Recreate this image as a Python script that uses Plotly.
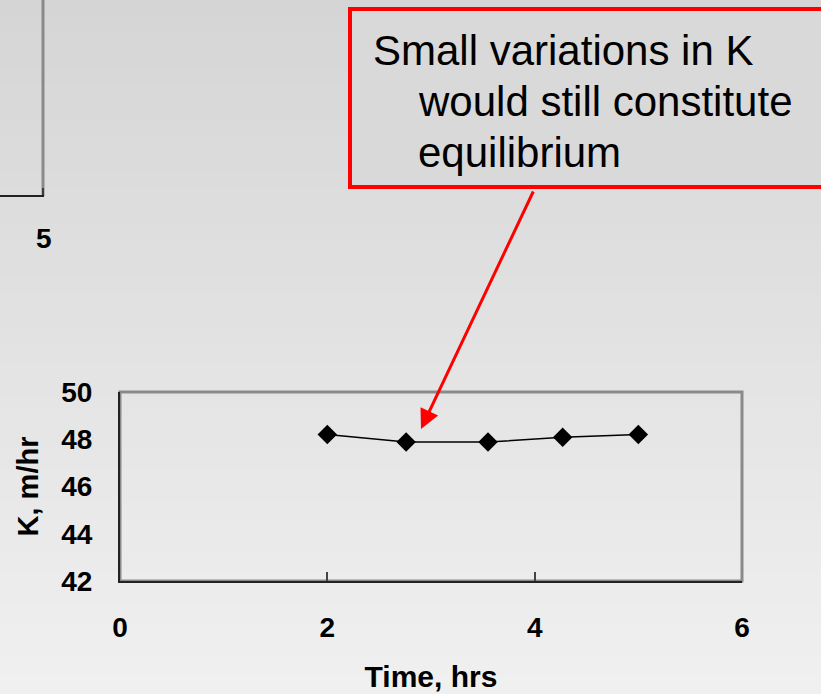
import plotly.graph_objects as go

# ---- data ----
time_hrs = [2.0, 2.76, 3.55, 4.27, 5.0]
k_values = [48.2, 47.88, 47.88, 48.08, 48.2]
x_ticks = [0, 2, 4, 6]
y_ticks = [42, 44, 46, 48, 50]
callout_lines = ["Small variations in K", "would still constitute", "equilibrium"]

FW, FH = 821, 694
L, R, T, B = 120, 742, 392, 581
W, H = R - L, B - T


def px(x):
    return (x - L) / W


def py(y):
    return (B - y) / H


fig = go.Figure()
fig.add_trace(go.Scatter(
    x=time_hrs, y=k_values, mode="lines+markers",
    line=dict(color="black", width=1.5),
    marker=dict(symbol="diamond", size=15, color="black"),
    showlegend=False, hoverinfo="skip"))

shapes = []
# background gradient bands
n = 40
c0, c1 = 0xd5, 0xf0
for i in range(n):
    y0 = FH * i / n
    y1 = FH * (i + 1) / n + 1
    c = round(c0 + (c1 - c0) * (i + 0.5) / n)
    col = f"rgb({c},{c},{c})"
    shapes.append(dict(type="rect", xref="paper", yref="paper",
                       x0=px(-5), x1=px(FW + 5), y0=py(y1 + 2), y1=py(y0 - 2),
                       fillcolor=col, line=dict(width=0), layer="below"))
# plot area border (gray)
shapes.append(dict(type="rect", xref="paper", yref="paper", x0=0, x1=1, y0=0, y1=1,
                   line=dict(color="#8a8a8a", width=3), layer="below"))
# fragment of a neighbouring chart (top-left)
shapes.append(dict(type="line", xref="paper", yref="paper",
                   x0=px(43), x1=px(43), y0=py(-5), y1=py(196),
                   line=dict(color="#8a8a8a", width=3)))
shapes.append(dict(type="line", xref="paper", yref="paper",
                   x0=px(-5), x1=px(44), y0=py(196), y1=py(196),
                   line=dict(color="#222", width=2)))
shapes.append(dict(type="line", xref="paper", yref="paper",
                   x0=px(43), x1=px(43), y0=py(196), y1=py(188),
                   line=dict(color="#222", width=1.5)))
# callout box
shapes.append(dict(type="rect", xref="paper", yref="paper",
                   x0=px(350), x1=px(FW + 10), y0=py(187), y1=py(9),
                   fillcolor="#d9d9d9", line=dict(color="#ff0000", width=4)))

big = dict(size=42, color="black", family="Arial, Liberation Sans")
annotations = [
    dict(xref="paper", yref="paper", x=px(44), y=py(238), text="<b>5</b>",
         xanchor="center", yanchor="middle",
         showarrow=False, font=dict(size=28, color="black", family="Arial, Liberation Sans")),
    dict(xref="paper", yref="paper", x=px(371), y=py(50), text=callout_lines[0],
         xanchor="left", yanchor="middle", showarrow=False, font=big),
    dict(xref="paper", yref="paper", x=px(416), y=py(101), text=callout_lines[1],
         xanchor="left", yanchor="middle", showarrow=False, font=big),
    dict(xref="paper", yref="paper", x=px(416), y=py(153), text=callout_lines[2],
         xanchor="left", yanchor="middle", showarrow=False, font=big),
    dict(xref="paper", yref="paper", x=px(421), y=py(429), axref="pixel", ayref="pixel",
         ax=113, ay=-239, text="", showarrow=True, arrowhead=2, arrowsize=1.3,
         arrowwidth=3, arrowcolor="#ff0000", standoff=0, startstandoff=0),
]

axis_font = dict(size=28, color="black", family="Arial, Liberation Sans")
title_font = dict(size=30, color="black", family="Arial, Liberation Sans")
fig.update_layout(
    width=FW, height=FH, autosize=False,
    margin=dict(l=L, r=FW - R, t=T, b=FH - B, pad=0, autoexpand=False),
    paper_bgcolor="#e3e3e3", plot_bgcolor="rgba(0,0,0,0)",
    shapes=shapes, annotations=annotations,
    font=dict(family="Arial, Liberation Sans", color="black"),
    xaxis=dict(range=[0, 6], tickvals=x_ticks, ticktext=[f"<b>{v}</b>" for v in x_ticks],
               automargin=False,
               showgrid=False, zeroline=False, showline=True, linecolor="#222", linewidth=2,
               ticks="inside", ticklen=9, tickcolor="#444", tickwidth=1.5,
               tickfont=axis_font, ticklabelstandoff=20,
               title=dict(text="<b>Time, hrs</b>", font=title_font, standoff=24)),
    yaxis=dict(range=[42, 50], tickvals=y_ticks, ticktext=[f"<b>{v}</b>" for v in y_ticks],
               automargin=False,
               showgrid=False, zeroline=False, showline=True, linecolor="#222", linewidth=2,
               ticks="", tickfont=axis_font, ticklabelstandoff=20,
               title=dict(text="<b>K, m/hr</b>", font=dict(size=29, color="black",
                          family="Arial, Liberation Sans"), standoff=14)),
)

fig.write_html("out.html", config={"displayModeBar": False},
               post_script="document.body.style.margin='0';")
